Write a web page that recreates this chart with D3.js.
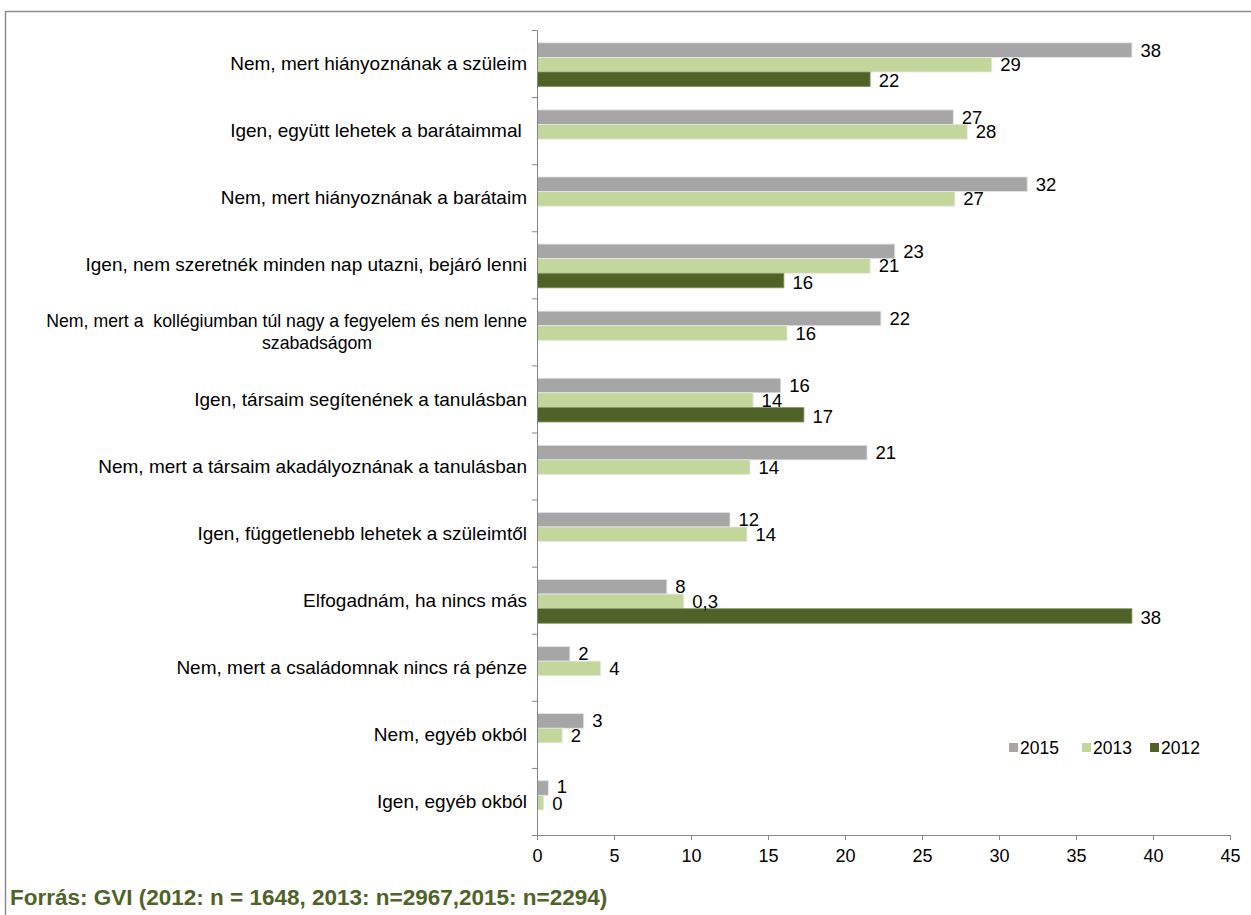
<!DOCTYPE html>
<html><head><meta charset="utf-8">
<script src="https://cdn.jsdelivr.net/npm/d3@7"></script>
<style>
html,body{margin:0;padding:0;background:#fff;}
svg{display:block;font-family:"Liberation Sans",Arial,sans-serif;}
</style></head>
<body>
<svg id="c" width="1251" height="915"></svg>
<script>
const categories = [
  ["Nem, mert hiányoznának a szüleim"],
  ["Igen, együtt lehetek a barátaimmal "],
  ["Nem, mert hiányoznának a barátaim"],
  ["Igen, nem szeretnék minden nap utazni, bejáró lenni"],
  ["Nem, mert a  kollégiumban túl nagy a fegyelem és nem lenne", "szabadságom"],
  ["Igen, társaim segítenének a tanulásban"],
  ["Nem, mert a társaim akadályoznának a tanulásban"],
  ["Igen, függetlenebb lehetek a szüleimtől"],
  ["Elfogadnám, ha nincs más"],
  ["Nem, mert a családomnak nincs rá pénze"],
  ["Nem, egyéb okból"],
  ["Igen, egyéb okból"]
];
const seriesNames = ["2015", "2013", "2012"];
const values2015 = [38.6, 27.0, 31.8, 23.2, 22.3, 15.8, 21.4, 12.5, 8.4, 2.1, 3.0, 0.7];
const values2013 = [29.5, 27.9, 27.1, 21.6, 16.2, 14.0, 13.8, 13.6, 9.5, 4.1, 1.6, 0.4];
const values2012 = [21.6, null, null, 16.0, null, 17.3, null, null, 38.6, null, null, null];
const labels2015 = ["38","27","32","23","22","16","21","12","8","2","3","1"];
const labels2013 = ["29","28","27","21","16","14","14","14","0,3","4","2","0"];
const labels2012 = ["22","","","16","","17","","","38","","",""];
const xTicks = [0,5,10,15,20,25,30,35,40,45];
const colors = ["#A6A6A6", "#C3D69B", "#4F6228"];
const sourceText = "Forrás: GVI (2012: n = 1648, 2013: n=2967,2015: n=2294)";

const svg = d3.select("#c");
// frame
svg.append("path").attr("d","M5.5,915 L5.5,11.5 L1251,11.5")
  .attr("fill","none").attr("stroke","#8c8c8c").attr("stroke-width",1.5);

const x0 = 537, x1 = 1230, yTop = 30, yBot = 835;
const x = d3.scaleLinear().domain([0,45]).range([x0,x1]);
const y = d3.scaleBand().domain(d3.range(categories.length)).range([yTop,yBot]).padding(0);
const bh = 14.6;
const ys = d3.scaleBand().domain(seriesNames).range([12.8, 12.8 + bh*3]).padding(0);

const allVals = [values2015, values2013, values2012];
const allLabs = [labels2015, labels2013, labels2012];

const data = [];
seriesNames.forEach((s,si)=>{
  allVals[si].forEach((v,ci)=>{
    if (v !== null) data.push({s, si, ci, v, lab: allLabs[si][ci]});
  });
});

svg.append("g").selectAll("rect").data(data).join("rect")
  .attr("x", x(0)+0.5)
  .attr("y", d=>y(d.ci)+ys(d.s))
  .attr("width", d=>x(d.v)-x(0))
  .attr("height", bh)
  .attr("fill", d=>colors[d.si])
  .attr("stroke", d=> d.si===2 ? "#8a9a6a" : "#e6e6e6")
  .attr("stroke-width", 0.8);

svg.append("g").selectAll("text").data(data.filter(d=>d.lab!=="")).join("text")
  .attr("x", d=>x(d.v)+9)
  .attr("y", d=>y(d.ci)+ys(d.s)+bh/2 + (d.si===2?1.5:0) - (d.ci===11&&d.si===0?1:0) + (d.ci===11&&d.si===1?1:0))
  .attr("dy","0.35em")
  .attr("font-size",18.5)
  .attr("fill","#000")
  .text(d=>d.lab);

// x axis
const xa = svg.append("g").attr("transform",`translate(0,${yBot})`)
  .call(d3.axisBottom(x).tickValues(xTicks).tickSize(5).tickPadding(9).tickSizeOuter(0));
xa.select(".domain").attr("stroke","#868686");
xa.selectAll(".tick line").attr("stroke","#868686");
xa.selectAll(".tick text").attr("font-size",18).attr("font-family","Liberation Sans, Arial, sans-serif").attr("fill","#000");

// y axis
const yb = d3.scaleLinear().domain([0,categories.length]).range([yTop,yBot]);
const ya = svg.append("g").attr("transform",`translate(${x0},0)`)
  .call(d3.axisLeft(yb).tickValues(d3.range(categories.length+1)).tickSize(5).tickFormat(""));
ya.select(".domain").attr("stroke","#868686");
ya.selectAll(".tick line").attr("stroke","#868686");

// category labels
const cl = svg.append("g");
categories.forEach((lines,ci)=>{
  const cy = y(ci) + y.bandwidth()/2;
  if (lines.length === 1) {
    cl.append("text").attr("x",527).attr("y",cy).attr("dy","0.35em")
      .attr("text-anchor","end").attr("font-size",19).attr("fill","#000")
      .style("white-space","pre").text(lines[0]);
  } else {
    cl.append("text").attr("x",527).attr("y",cy-11).attr("dy","0.35em")
      .attr("text-anchor","end").attr("font-size",17.7).attr("fill","#000")
      .style("white-space","pre").text(lines[0]);
    cl.append("text").attr("x",317).attr("y",cy+11).attr("dy","0.35em")
      .attr("text-anchor","middle").attr("font-size",17.7).attr("fill","#000")
      .text(lines[1]);
  }
});

// legend
const legX = [1009, 1082, 1150];
const lg = svg.append("g");
seriesNames.forEach((s,i)=>{
  lg.append("rect").attr("x",legX[i]).attr("y",743).attr("width",9).attr("height",9).attr("fill",colors[i]);
  lg.append("text").attr("x",legX[i]+11).attr("y",748).attr("dy","0.35em")
    .attr("font-size",17.5).attr("fill","#000").text(s);
});

// source
svg.append("text").attr("x",10).attr("y",897).attr("dy","0.35em")
  .attr("font-size",22.5).attr("font-weight","bold").attr("fill","#4F6228")
  .text(sourceText);
</script>
</body></html>
